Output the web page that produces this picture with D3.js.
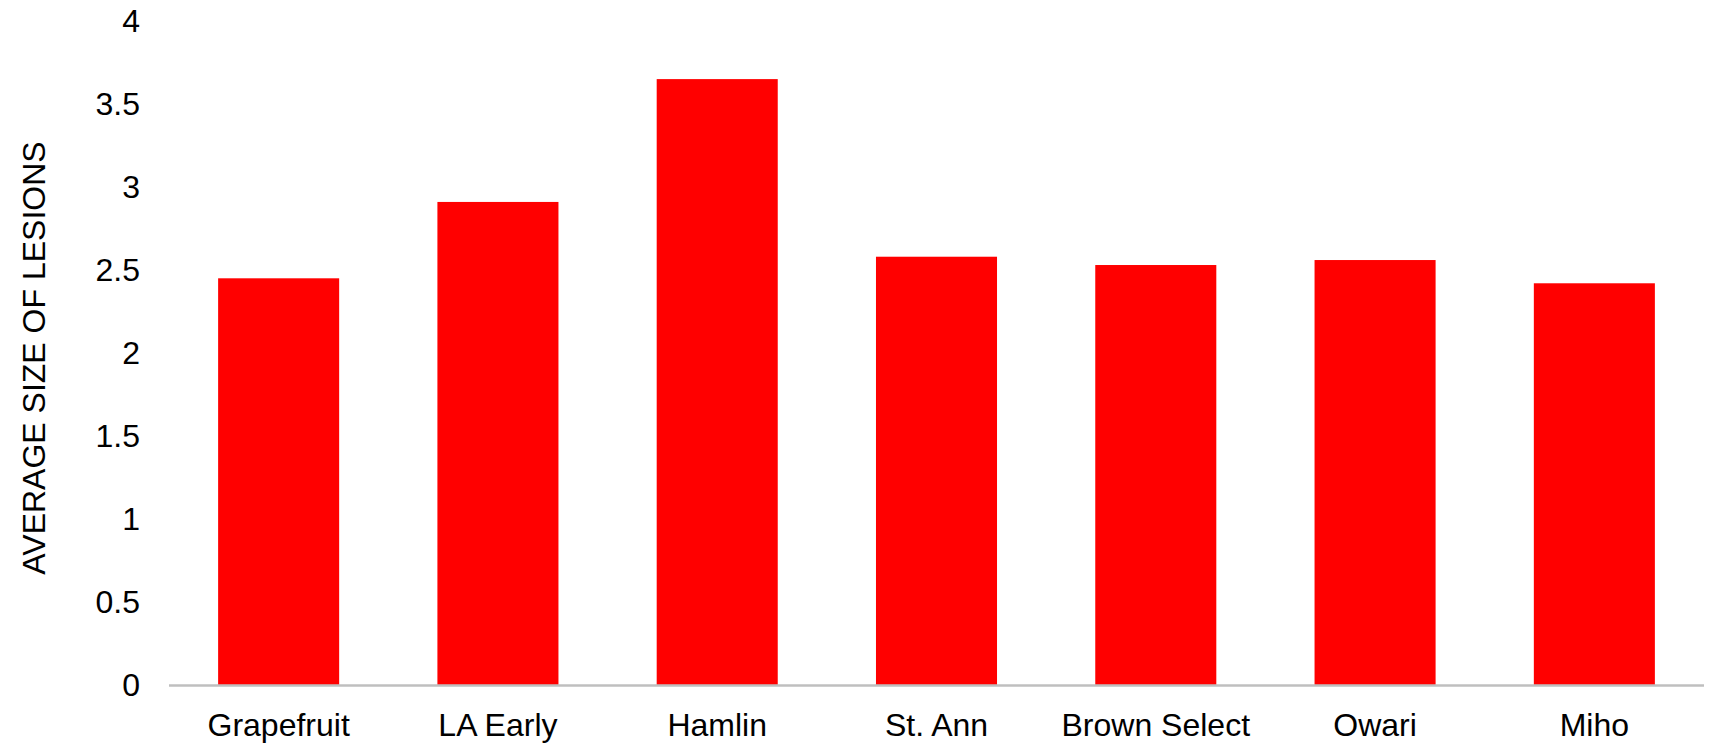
<!DOCTYPE html>
<html><head><meta charset="utf-8">
<script src="https://cdn.jsdelivr.net/npm/d3@7"></script>
<style>body{margin:0;background:#fff}svg{display:block}</style>
</head><body>
<svg id="c" width="1710" height="750"></svg>
<script>
const categories = ["Grapefruit","LA Early","Hamlin","St. Ann","Brown Select","Owari","Miho"];
const values = [2.45, 2.91, 3.65, 2.58, 2.53, 2.56, 2.42];
const yTicks = [0, 0.5, 1, 1.5, 2, 2.5, 3, 3.5, 4];
const yTitle = "AVERAGE SIZE OF LESIONS";

const svg = d3.select("#c");
const font = "'Liberation Sans', Arial, sans-serif";
const x = d3.scaleBand().domain(categories).range([169, 1704]).paddingInner(0.448).paddingOuter(0.224);
const y = d3.scaleLinear().domain([0, 4]).range([685, 21]);

svg.append("g").selectAll("rect").data(values).join("rect")
  .attr("x", (d, i) => x(categories[i]))
  .attr("width", x.bandwidth())
  .attr("y", d => y(d))
  .attr("height", d => y(0) - y(d))
  .attr("fill", "#ff0000");

const yAxis = svg.append("g").attr("transform", "translate(140,0)")
  .call(d3.axisLeft(y).tickValues(yTicks).tickSize(0).tickPadding(0).tickFormat(d3.format("")));
yAxis.select(".domain").remove();
yAxis.selectAll("text").attr("font-family", font).attr("font-size", 32).attr("fill", "#000");

const xAxis = svg.append("g").attr("transform", "translate(0,685.5)")
  .call(d3.axisBottom(x).tickSize(0).tickPadding(28));
xAxis.select(".domain").attr("stroke", "#bfbfbf").attr("stroke-width", 2.5).attr("d", "M169,0H1704");
xAxis.selectAll("text").attr("font-family", font).attr("font-size", 32).attr("fill", "#000");

svg.append("text").attr("transform", "translate(45,358) rotate(-90)")
  .attr("text-anchor", "middle").attr("font-family", font).attr("font-size", 32)
  .attr("fill", "#000").text(yTitle);
</script>
</body></html>
